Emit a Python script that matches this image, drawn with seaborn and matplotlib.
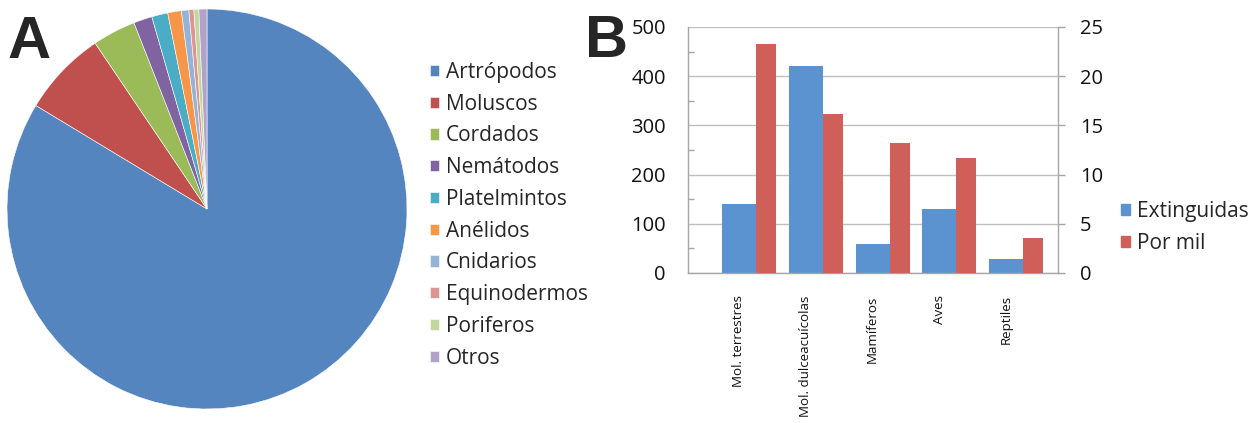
import matplotlib
matplotlib.use("Agg")
import matplotlib.pyplot as plt
from matplotlib.patches import Patch
from matplotlib.ticker import MultipleLocator
import seaborn as sns
import pandas as pd
import numpy as np

# ---- data ----
phyla = ["Artrópodos", "Moluscos", "Cordados", "Nemátodos", "Platelmintos",
         "Anélidos", "Cnidarios", "Equinodermos", "Poriferos", "Otros"]
phyla_pct = [83.7, 6.9, 3.5, 1.5, 1.3, 1.1, 0.6, 0.4, 0.4, 0.65]
phyla_colors = ["#5585BF", "#C0504D", "#9BBB59", "#8064A2", "#4BACC6",
                "#F79646", "#95B3D7", "#D99694", "#C3D69B", "#B3A2C7"]

groups = ["Mol. terrestres", "Mol. dulceacuícolas", "Mamíferos", "Aves", "Reptiles"]
extinct = [140, 421, 59, 130, 28]
per_mil = [23.3, 16.2, 13.2, 11.7, 3.6]
series_names = ["Extinguidas", "Por mil"]
bar_colors = ["#5A93CF", "#CF5F58"]

W, H = 1257, 423

sns.set_theme(style="white")
plt.rcParams['font.family'] = ['Open Sans', 'DejaVu Sans']

fig = plt.figure(figsize=(W / 100, H / 100), dpi=100)

# ---- Pie (A) ----
ax_pie = fig.add_axes([7 / W, 14 / H, 400 / W, 400 / H])
wedges, _ = ax_pie.pie(phyla_pct, colors=phyla_colors, startangle=90,
                       counterclock=False,
                       wedgeprops=dict(edgecolor="white", linewidth=0.4))
ax_pie.set_xlim(-1, 1)
ax_pie.set_ylim(-1, 1)
ax_pie.set_aspect("equal")
fig.legend(wedges, phyla, loc="upper left", bbox_to_anchor=(430 / W, 1 - 62 / H),
           frameon=False, fontsize=15, handlelength=0.45, handleheight=0.45,
           handletextpad=0.3, labelspacing=0.515, borderaxespad=0, borderpad=0)

# ---- Bars (B) ----
df = pd.DataFrame({"pos": np.arange(len(groups)), "grupo": groups,
                   series_names[0]: extinct, series_names[1]: per_mil})
blue_w, red_w = 0.51, 0.30
df["pos_red"] = df["pos"] + blue_w / 2 + red_w / 2

ax = fig.add_axes([688 / W, 150 / H, 370 / W, 246 / H])
sns.barplot(data=df, x="pos", y=series_names[0], native_scale=True, width=blue_w,
            color=bar_colors[0], saturation=1, errorbar=None, linewidth=0, ax=ax)
ax2 = ax.twinx()
sns.barplot(data=df, x="pos_red", y=series_names[1], native_scale=True, width=red_w,
            color=bar_colors[1], saturation=1, errorbar=None, linewidth=0, ax=ax2)

ax.set_xlim(-0.763, 4.775)
ax.set_ylim(0, 500)
ax2.set_ylim(0, 25)
ax.set_yticks(np.arange(0, 501, 100))
ax.yaxis.set_minor_locator(MultipleLocator(50))
ax2.set_yticks(np.arange(0, 26, 5))
ax.set_xticks(df["pos"])
ax.set_xticklabels(groups, rotation=90, fontsize=9.6)
ax.set_xlabel("")
ax.set_ylabel("")
ax2.set_ylabel("")
ax2.set_xlabel("")

grey = "#A6A6A6"
ax.set_axisbelow(True)
ax.yaxis.grid(True, which="major", color="#BFBFBF", linewidth=1)
for s in ["top", "right"]:
    ax.spines[s].set_visible(False)
for s in ["left", "bottom"]:
    ax.spines[s].set_color(grey)
    ax.spines[s].set_linewidth(1)
for s in ["top", "left", "bottom"]:
    ax2.spines[s].set_visible(False)
ax2.spines["right"].set_color(grey)
ax2.spines["right"].set_linewidth(1)

ax.tick_params(axis="x", length=0, pad=16, colors="#111111")
ax.tick_params(axis="y", which="major", left=True, length=0, pad=16, labelsize=14.5,
               colors="#111111")
ax.tick_params(axis="y", which="minor", left=True, direction="in", length=4,
               color=grey, width=1)
ax2.tick_params(axis="y", which="major", right=True, direction="out", length=5,
                color=grey, width=1, pad=11, labelsize=14.5, labelcolor="#111111")

handles = [Patch(color=c) for c in bar_colors]
fig.legend(handles, series_names, loc="upper left", bbox_to_anchor=(1121 / W, 1 - 201 / H),
           frameon=False, fontsize=15, handlelength=0.45, handleheight=0.45,
           handletextpad=0.3, labelspacing=0.52, borderaxespad=0, borderpad=0)

# ---- panel letters ----
fig.text(8 / W, 1 - 58 / H, "A", fontsize=43, fontweight="bold",
         family="Liberation Sans", va="baseline", ha="left")
fig.text(585 / W, 1 - 57 / H, "B", fontsize=43, fontweight="bold",
         family="Liberation Sans", va="baseline", ha="left")

fig.savefig("out.png", dpi=100)
